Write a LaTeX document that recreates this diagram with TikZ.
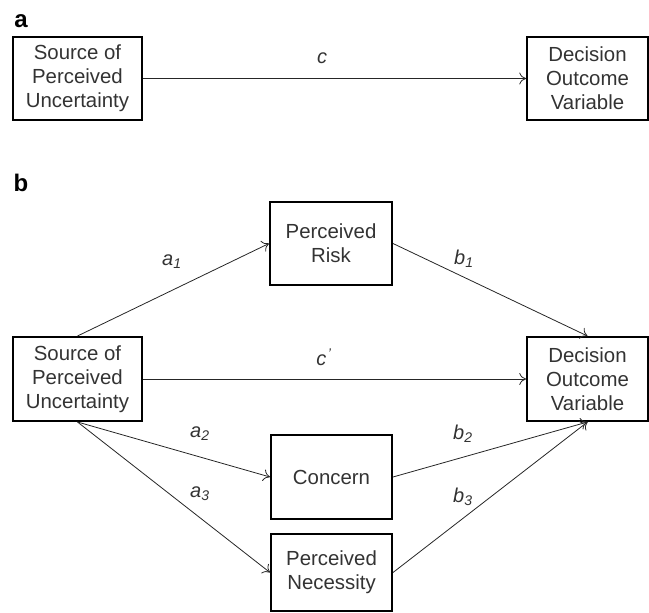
\documentclass[tikz,border=0pt]{standalone}
\usepackage{fontspec}
\setmainfont{Liberation Sans}
\usetikzlibrary{arrows.meta}
\definecolor{txtgray}{HTML}{333333}
\tikzset{
  box/.style={draw=black, line width=1.5pt, text=txtgray, align=center, inner sep=0pt,
    font=\fontsize{15.3}{18}\selectfont},
  path/.style={->, line width=0.6pt, draw=black!85, >={To[length=5pt,width=9pt]}},
  lbl/.style={text=txtgray, font=\fontsize{15}{18}\selectfont\itshape, inner sep=0pt},
  panel/.style={font=\fontsize{18}{20}\selectfont\bfseries, inner sep=0pt}
}
\begin{document}
\begin{tikzpicture}[x=0.75pt,y=-0.75pt]
\useasboundingbox (0,0) rectangle (649,613);
% panel a
\node[panel] (pa) at (21,21) {a};
\node[box, minimum width=129*0.75pt, minimum height=83*0.75pt] (srcA) at (77.5,78.5) {Source of\\Perceived\\Uncertainty};
\node[box, minimum width=121*0.75pt, minimum height=83*0.75pt] (decA) at (587.5,78.5) {Decision\\Outcome\\Variable};
\draw[path] (srcA) -- (decA);
\node[lbl] (c) at (322,58) {c};
% panel b
\node[panel] (pb) at (21,183) {b};
\node[box, minimum width=129*0.75pt, minimum height=84*0.75pt] (srcB) at (77.5,379) {Source of\\Perceived\\Uncertainty};
\node[box, minimum width=121*0.75pt, minimum height=84*0.75pt] (decB) at (587.5,379) {Decision\\Outcome\\Variable};
\node[box, minimum width=122*0.75pt, minimum height=83*0.75pt] (risk) at (331,243.5) {Perceived\\Risk};
\node[box, minimum width=121*0.75pt, minimum height=84*0.75pt] (conc) at (331.5,477) {Concern};
\node[box, minimum width=121*0.75pt, minimum height=77*0.75pt] (need) at (331.5,572.5) {Perceived\\Necessity};
\draw[path] (srcB.north) -- (risk.west);
\draw[path] (risk.east) -- (decB.north);
\draw[path] (srcB) -- (decB);
\draw[path] (srcB.south) -- (conc.west);
\draw[path] (srcB.south) -- (need.west);
\draw[path] (conc.east) -- (decB.south);
\draw[path] (need.east) -- (decB.south);
\node[lbl] (a1) at (172,262) {a\textsubscript{1}};
\node[lbl] (b1) at (464,259) {b\textsubscript{1}};
\node[lbl] (cp) at (324,357) {c\kern1pt\textsuperscript{'}};
\node[lbl] (a2) at (200,434) {a\textsubscript{2}};
\node[lbl] (b2) at (463,434) {b\textsubscript{2}};
\node[lbl] (a3) at (200,494) {a\textsubscript{3}};
\node[lbl] (b3) at (463,497) {b\textsubscript{3}};
\end{tikzpicture}
\end{document}
